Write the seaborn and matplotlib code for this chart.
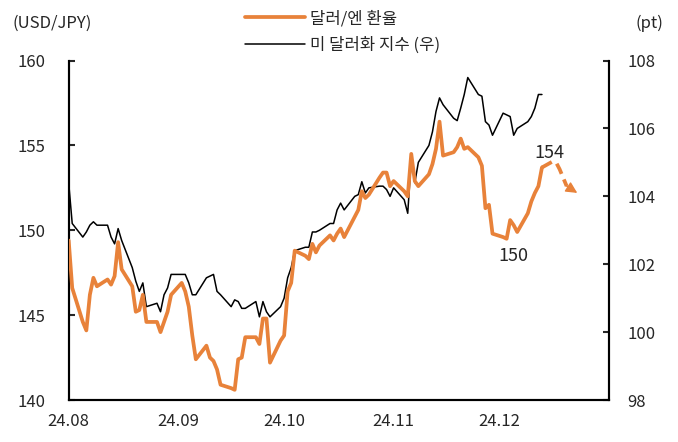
import numpy as np
import pandas as pd
import matplotlib
matplotlib.use("Agg")
import matplotlib.pyplot as plt
import matplotlib.dates as mdates
from matplotlib.lines import Line2D
import seaborn as sns

# 영업일 기준 (24.08.01 ~ 24.12.13)
dates = pd.bdate_range("2024-08-01", "2024-12-13")

usdjpy = [
    # Aug
    149.4, 146.6, 144.6, 144.1, 146.2, 147.2, 146.7, 147.1, 146.8, 147.3, 149.3,
    147.7, 146.7, 145.2, 145.3, 146.2, 144.6, 144.6, 144.0, 144.6, 145.2, 146.2,
    # Sep
    146.9, 146.4, 145.5, 143.8, 142.4, 143.2, 142.5, 142.3, 141.8, 140.9, 140.7,
    140.6, 142.4, 142.5, 143.7, 143.7, 143.3, 144.8, 144.8, 142.2, 143.5,
    # Oct
    143.8, 146.4, 146.9, 148.8, 148.5, 148.3, 149.2, 148.7, 149.1, 149.7, 149.4,
    149.8, 150.1, 149.6, 150.8, 151.2, 152.3, 151.9, 152.1, 153.1, 153.4, 153.4, 152.6,
    # Nov
    152.9, 152.3, 152.0, 154.5, 152.9, 152.6, 153.3, 153.9, 154.8, 156.4, 154.4,
    154.6, 154.9, 155.4, 154.8, 154.9, 154.3, 153.8, 151.3, 151.5, 149.8,
    # Dec
    149.6, 149.5, 150.6, 150.3, 149.9, 151.0, 151.7, 152.2, 152.6, 153.7,
]

dxy = [
    # Aug
    104.4, 103.2, 102.8, 102.95, 103.15, 103.25, 103.15, 103.15, 102.8, 102.6, 103.05,
    102.7, 101.9, 101.5, 101.2, 101.45, 100.75, 100.85, 100.6, 101.1, 101.3, 101.7,
    # Sep
    101.7, 101.7, 101.45, 101.1, 101.1, 101.6, 101.65, 101.7, 101.2, 101.1, 100.75,
    100.95, 100.9, 100.7, 100.7, 100.9, 100.45, 100.9, 100.6, 100.45, 100.75,
    # Oct
    101.0, 101.6, 101.9, 102.4, 102.5, 102.5, 102.95, 102.95, 103.0, 103.2, 103.2,
    103.6, 103.8, 103.6, 104.0, 104.05, 104.43, 104.1, 104.25, 104.3, 104.3, 104.2, 104.0,
    # Nov
    104.25, 103.9, 103.5, 105.1, 104.4, 105.0, 105.5, 105.9, 106.5, 106.9, 106.7,
    106.3, 106.23, 106.6, 107.0, 107.5, 107.0, 106.95, 106.2, 106.1, 105.8,
    # Dec
    106.45, 106.4, 106.35, 105.8, 106.0, 106.2, 106.35, 106.6, 107.0, 107.0,
]

# 전망 (점선)
fc_dates = pd.to_datetime(["2024-12-13", "2024-12-16", "2024-12-17", "2024-12-18",
                           "2024-12-19", "2024-12-20", "2024-12-23"])
fc_values = [153.7, 154.05, 154.0, 153.6, 153.1, 152.6, 152.2]

orange = "#e8823a"

sns.set_style("white")
plt.rcParams["font.family"] = ["Noto Sans CJK KR", "DejaVu Sans"]

fig = plt.figure(figsize=(6.78, 4.42), dpi=100)
ax = fig.add_axes([0.1013, 0.095, 0.797, 0.768])
ax2 = ax.twinx()

df = pd.DataFrame({"date": dates, "usdjpy": usdjpy, "dxy": dxy})
sns.lineplot(data=df, x="date", y="usdjpy", ax=ax, color=orange, lw=2.7, zorder=3)
sns.lineplot(data=df, x="date", y="dxy", ax=ax2, color="black", lw=1.1, zorder=2)
sns.lineplot(x=fc_dates[:-1], y=fc_values[:-1], ax=ax, color=orange, lw=2.7,
             linestyle=(0, (3, 1.6)))
# 화살촉
ax.annotate("", xy=(fc_dates[-1], fc_values[-1]), xytext=(fc_dates[-2], fc_values[-2]),
            arrowprops=dict(arrowstyle="-|>", mutation_scale=17, color=orange,
                            lw=1.0, shrinkA=0, shrinkB=0))

ax.set_zorder(ax2.get_zorder() + 1)
ax.patch.set_visible(False)

ax.set_xlim(pd.Timestamp("2024-08-01"), pd.Timestamp("2025-01-01"))
ax.set_ylim(140, 160)
ax2.set_ylim(98, 108)
ax.set_yticks(np.arange(140, 161, 5))
ax2.set_yticks(np.arange(98, 109, 2))
ax.set_xticks(pd.to_datetime(["2024-08-01", "2024-09-01", "2024-10-01",
                              "2024-11-01", "2024-12-01"]))
ax.xaxis.set_major_formatter(mdates.DateFormatter("%y.%m"))
ax.set_xlabel("")
ax.set_ylabel("")
ax2.set_ylabel("")

for a in (ax, ax2):
    for s in a.spines.values():
        s.set_color("black")
        s.set_linewidth(1.5)
    a.spines["top"].set_visible(False)
ax.tick_params(axis="y", direction="in", length=4, width=1.5, pad=17, labelsize=12)
ax.tick_params(axis="x", direction="in", length=4, width=1.5, pad=9, labelsize=12)
ax2.tick_params(axis="y", direction="in", length=4, width=1.5, pad=13, labelsize=12)

fig.text(52 / 678, 1 - 23 / 442, "(USD/JPY)", ha="center", va="center", fontsize=12)
fig.text(649 / 678, 1 - 23 / 442, "(pt)", ha="center", va="center", fontsize=12)

ax.text(pd.Timestamp("2024-12-15"), 154.55, "154", ha="center", va="center", fontsize=13)
ax.text(pd.Timestamp("2024-12-05"), 148.5, "150", ha="center", va="center", fontsize=13)

handles = [Line2D([], [], color=orange, lw=2.7), Line2D([], [], color="black", lw=1.1)]
fig.legend(handles, ["달러/엔 환율", "미 달러화 지수 (우)"], loc="upper left",
           bbox_to_anchor=(245 / 678, 1 - 10 / 442), frameon=False, fontsize=12,
           handlelength=3.6, handletextpad=0.3, labelspacing=0.6,
           borderpad=0, borderaxespad=0)

fig.savefig("out.png", dpi=100)
